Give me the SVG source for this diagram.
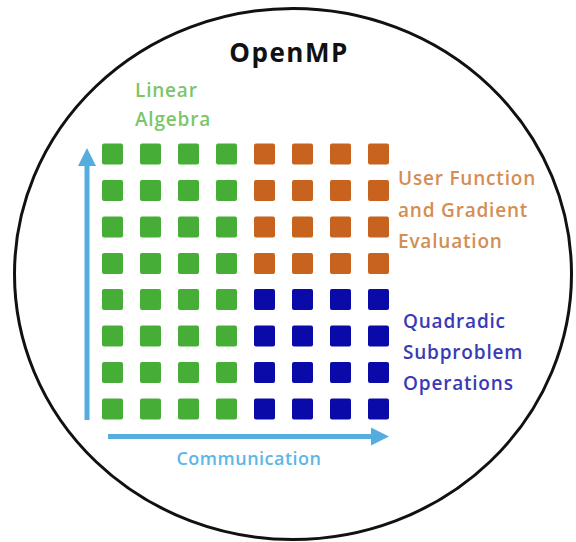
<svg xmlns="http://www.w3.org/2000/svg" width="576" height="542" viewBox="0 0 576 542">
<style>
  .g{fill:#46ad37}
  .o{fill:#c8631f}
  .b{fill:#0a0aa8}
  .t{font-family:"Open Sans","Liberation Sans",sans-serif;font-weight:600;font-size:19px;letter-spacing:0.8px}
  .ax{stroke:#55acdf;stroke-width:5;fill:none}
</style>
<defs>
  <marker id="ah" viewBox="0 0 10 10" refX="0" refY="5" markerWidth="3.6" markerHeight="4" orient="auto" markerUnits="strokeWidth">
    <path d="M0,0 L10,5 L0,10 Z" fill="#55acdf"/>
  </marker>
  <rect id="sq" width="21" height="21" rx="2"/>
</defs>
<rect width="576" height="542" fill="#fff"/>
<g id="frame">
  <ellipse cx="293" cy="274" rx="278.5" ry="265.5" fill="#fff" stroke="#111" stroke-width="3"/>
  <text x="289" y="62" text-anchor="middle" font-family="'Open Sans','Liberation Sans',sans-serif" font-size="26" font-weight="bold" letter-spacing="1.5" fill="#111">OpenMP</text>
</g>
<g id="connectors">
  <line class="ax" x1="87" y1="420" x2="87" y2="166" marker-end="url(#ah)"/>
  <line class="ax" x1="108" y1="436.5" x2="371" y2="436.5" marker-end="url(#ah)"/>
</g>
<g id="linear-algebra">
  <g class="g">
    <use href="#sq" x="102" y="143.5"/><use href="#sq" x="140" y="143.5"/><use href="#sq" x="178" y="143.5"/><use href="#sq" x="216" y="143.5"/>
    <use href="#sq" x="102" y="180"/><use href="#sq" x="140" y="180"/><use href="#sq" x="178" y="180"/><use href="#sq" x="216" y="180"/>
    <use href="#sq" x="102" y="216.5"/><use href="#sq" x="140" y="216.5"/><use href="#sq" x="178" y="216.5"/><use href="#sq" x="216" y="216.5"/>
    <use href="#sq" x="102" y="253"/><use href="#sq" x="140" y="253"/><use href="#sq" x="178" y="253"/><use href="#sq" x="216" y="253"/>
    <use href="#sq" x="102" y="289"/><use href="#sq" x="140" y="289"/><use href="#sq" x="178" y="289"/><use href="#sq" x="216" y="289"/>
    <use href="#sq" x="102" y="325.5"/><use href="#sq" x="140" y="325.5"/><use href="#sq" x="178" y="325.5"/><use href="#sq" x="216" y="325.5"/>
    <use href="#sq" x="102" y="362"/><use href="#sq" x="140" y="362"/><use href="#sq" x="178" y="362"/><use href="#sq" x="216" y="362"/>
    <use href="#sq" x="102" y="398.5"/><use href="#sq" x="140" y="398.5"/><use href="#sq" x="178" y="398.5"/><use href="#sq" x="216" y="398.5"/>
  </g>
  <text class="t" fill="#7cc56a"><tspan x="135" y="97">Linear</tspan><tspan x="135" y="126">Algebra</tspan></text>
</g>
<g id="user-function">
  <g class="o">
    <use href="#sq" x="254" y="143.5"/><use href="#sq" x="292" y="143.5"/><use href="#sq" x="330" y="143.5"/><use href="#sq" x="368" y="143.5"/>
    <use href="#sq" x="254" y="180"/><use href="#sq" x="292" y="180"/><use href="#sq" x="330" y="180"/><use href="#sq" x="368" y="180"/>
    <use href="#sq" x="254" y="216.5"/><use href="#sq" x="292" y="216.5"/><use href="#sq" x="330" y="216.5"/><use href="#sq" x="368" y="216.5"/>
    <use href="#sq" x="254" y="253"/><use href="#sq" x="292" y="253"/><use href="#sq" x="330" y="253"/><use href="#sq" x="368" y="253"/>
  </g>
  <text class="t" fill="#d48d52"><tspan x="398" y="185">User Function</tspan><tspan x="398" y="217">and Gradient</tspan><tspan x="398" y="248">Evaluation</tspan></text>
</g>
<g id="quadradic">
  <g class="b">
    <use href="#sq" x="254" y="289"/><use href="#sq" x="292" y="289"/><use href="#sq" x="330" y="289"/><use href="#sq" x="368" y="289"/>
    <use href="#sq" x="254" y="325.5"/><use href="#sq" x="292" y="325.5"/><use href="#sq" x="330" y="325.5"/><use href="#sq" x="368" y="325.5"/>
    <use href="#sq" x="254" y="362"/><use href="#sq" x="292" y="362"/><use href="#sq" x="330" y="362"/><use href="#sq" x="368" y="362"/>
    <use href="#sq" x="254" y="398.5"/><use href="#sq" x="292" y="398.5"/><use href="#sq" x="330" y="398.5"/><use href="#sq" x="368" y="398.5"/>
  </g>
  <text class="t" fill="#3a3ab4"><tspan x="403" y="328">Quadradic</tspan><tspan x="403" y="359">Subproblem</tspan><tspan x="403" y="390">Operations</tspan></text>
</g>
<g id="communication">
  <text class="t" x="249" y="465" text-anchor="middle" style="font-size:18px;letter-spacing:0.5px" fill="#5cb6e6">Communication</text>
</g>
</svg>
